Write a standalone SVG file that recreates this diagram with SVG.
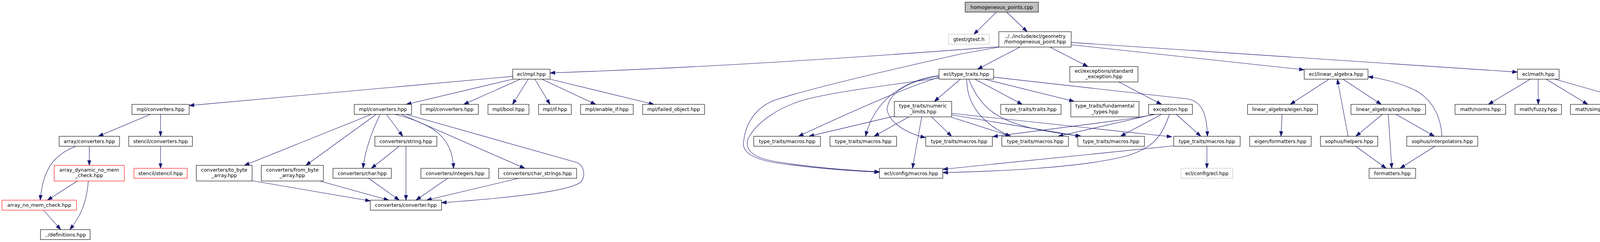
<svg xmlns="http://www.w3.org/2000/svg" width="4332" height="619" viewBox="0 0 4332 619">
<defs>
<style>
.node rect{fill:#ffffff;stroke:#000000;stroke-width:1.1}
.node.red rect{stroke:#ff0000}
.node.gray rect{stroke:#bfbfbf}
.node.root rect{fill:#bfbfbf}
text{font-family:"DejaVu Sans","Liberation Sans",sans-serif;font-size:12.5px;text-anchor:middle;fill:#000000}
.edges path{fill:none;stroke:#191970;stroke-width:1.1;marker-end:url(#arr)}
</style>
<marker id="arr" markerWidth="14" markerHeight="10" refX="13" refY="4.5" orient="auto" markerUnits="userSpaceOnUse">
<path d="M0,0 L13,4.5 L0,9 z" fill="#191970" stroke="#191970" stroke-width="1"/>
</marker>
</defs>
<rect width="4332" height="619" fill="#ffffff"/>
<g class="edges" id="edges">
<path d="M2551,31 L2493,87.7"/>
<path d="M2577,31 L2629.5,81"/>
<path d="M2557,119.5 Q1900,170 1408.1,186.5"/>
<path d="M2611,120.4 L2502.5,177"/>
<path d="M2688,120.4 L2785,170.2"/>
<path d="M2557,120.5 L2460,138 C2250,185 2080,225 1990,254 C1945,268 1910,305 1904,360 C1897,390 1930,408 1990,417 C2080,430 2180,437 2251.4,440.5"/>
<path d="M2403.6,199.5 C2300,215 2150,232 2060,255 C1990,275 1935,315 1915,355 C1905,385 1930,405 1990,414 C2080,428 2180,436 2251.4,439.5"/>
<path d="M2403.6,198 Q2310,225 2044,348.6"/>
<path d="M2403.6,193 C2320,205 2240,250 2215.7,348.6"/>
<path d="M2403.6,195 C2330,205 2275,235 2271,280 C2275,310 2315,340 2369.6,352"/>
<path d="M2458.6,202.5 L2392,259.4"/>
<path d="M2475,202.5 C2474,270 2520,320 2587,348.6"/>
<path d="M2480,202.5 C2510,280 2560,310 2650,330 C2700,340 2740,345 2768,348.6"/>
<path d="M2496,202.5 L2617,267"/>
<path d="M2520.4,202.5 L2750,259.4"/>
<path d="M2543.6,197.4 L3040,253 C3075,258 3090,290 3091,348.6"/>
<path d="M2289.5,297 L2071,348.6"/>
<path d="M2327,298.9 L2237.7,348.6"/>
<path d="M2359.6,298.9 L2335.9,430.5"/>
<path d="M2385,298.9 L2436,348.6"/>
<path d="M2436.3,300 L2588,348.6"/>
<path d="M2436.3,294 L2766,348.6"/>
<path d="M2436.3,290 L3000,350"/>
<path d="M2958,292.5 C2880,308 2700,328 2541.4,349.5"/>
<path d="M2954,292.5 L2709,348.6"/>
<path d="M2973.5,292.5 L2868.6,348.6"/>
<path d="M3011.4,292.5 L3074,348.6"/>
<path d="M2993.6,292.5 C2975,350 2950,380 2880,400 C2760,430 2550,438 2413.6,441.5"/>
<path d="M3004.7,373 L2413.6,433"/>
<path d="M3089.7,374 L3089.7,430.5"/>
<path d="M2864,209.6 L2973.5,267"/>
<path d="M2742.2,114.5 L3338.8,178.5"/>
<path d="M2742.2,108.6 L3884.5,184.4"/>
<path d="M3402,202.5 L3303,267"/>
<path d="M3438,202.5 L3536,267"/>
<path d="M3451.2,348.6 L3423.6,202.5"/>
<path d="M3691.4,348.6 C3688,290 3660,245 3610,225 C3570,208 3530,200 3502.1,196"/>
<path d="M3282,292.5 L3279.4,348.6"/>
<path d="M3538.8,292.5 L3471,348.6"/>
<path d="M3554,292.5 L3562.9,430.5"/>
<path d="M3574,292.5 L3672,348.6"/>
<path d="M3470.4,374 L3548.6,430.5"/>
<path d="M3673.6,374 L3584.3,430.5"/>
<path d="M3917.7,202.5 L3810.2,267"/>
<path d="M3937.9,202.5 L3937.9,267"/>
<path d="M3958.1,202.5 L4064.7,267"/>
<path d="M3979.8,202.5 L4208.9,267"/>
<path d="M1312.6,195.4 L484.3,270"/>
<path d="M1312.6,202.5 L1040,267"/>
<path d="M1332.2,202.5 L1187,267"/>
<path d="M1352.3,202.5 L1312,267"/>
<path d="M1369.3,202.5 L1408,267"/>
<path d="M1387.1,202.5 L1525,267"/>
<path d="M1408.1,202.5 L1674,267"/>
<path d="M950.7,292.5 L625.7,423"/>
<path d="M963.2,292.5 L782.9,423"/>
<path d="M973.2,292.5 C955,330 935,380 929.3,430.5"/>
<path d="M989.3,292.5 L1031,348.6"/>
<path d="M1011.4,292.5 C1110,318 1158,350 1161,430.5"/>
<path d="M1027.5,292.5 L1343.4,430.5"/>
<path d="M1040,292.5 L1478,416 C1497,425 1500,455 1485,467 C1460,485 1350,503 1130.4,518.5"/>
<path d="M1022.1,374 L950.7,430.5"/>
<path d="M1039.3,374 L1039.3,512"/>
<path d="M943.6,456 L1022.1,512"/>
<path d="M1146,456 L1065,512"/>
<path d="M1327.8,456 L1092,512"/>
<path d="M645.4,462.3 L948,514"/>
<path d="M818.6,463 L995.4,512"/>
<path d="M385,292.5 L251.6,348.6"/>
<path d="M411,292.5 L411,348.6"/>
<path d="M228.6,374 L228.6,423"/>
<path d="M194.6,374 C140,395 110,430 103,512"/>
<path d="M411,374 L411,430.5"/>
<path d="M198.2,463 L121.4,512"/>
<path d="M226,463 C222,520 205,555 178.6,587.3"/>
<path d="M111.8,538 L155.4,587.3"/>
</g>
<g class="node root" id="n0"><rect x="2470.8" y="5.5" width="187.5" height="25.5"/><text x="2564.5" y="22.7">homogeneous_points.cpp</text></g>
<g class="node gray" id="n1"><rect x="2428.3" y="87.7" width="104.1" height="25.5"/><text x="2480.4" y="104.9">gtest/gtest.h</text></g>
<g class="node" id="n2"><rect x="2557" y="81" width="185.2" height="39.4"/><text x="2649.6" y="96.5">../../include/ecl/geometry</text><text x="2649.6" y="110.8">/homogeneous_point.hpp</text></g>
<g class="node" id="n3"><rect x="1312.6" y="177" width="95.5" height="25.5"/><text x="1360.4" y="194.2">ecl/mpl.hpp</text></g>
<g class="node" id="n4"><rect x="2403.8" y="177" width="139.8" height="25.5"/><text x="2473.7" y="194.2">ecl/type_traits.hpp</text></g>
<g class="node" id="n5"><rect x="2738.7" y="170.2" width="174.5" height="39.4"/><text x="2826" y="185.7">ecl/exceptions/standard</text><text x="2826" y="200">_exception.hpp</text></g>
<g class="node" id="n6"><rect x="3338.8" y="177" width="163.3" height="25.5"/><text x="3420.4" y="194.2">ecl/linear_algebra.hpp</text></g>
<g class="node" id="n7"><rect x="3884.5" y="177" width="106.9" height="25.5"/><text x="3938" y="194.2">ecl/math.hpp</text></g>
<g class="node" id="n8"><rect x="337.7" y="267" width="146.6" height="25.5"/><text x="411" y="284.2">mpl/converters.hpp</text></g>
<g class="node" id="n9"><rect x="907" y="267" width="146.6" height="25.5"/><text x="980.3" y="284.2">mpl/converters.hpp</text></g>
<g class="node" id="n10"><rect x="1077.5" y="267" width="147.1" height="25.5"/><text x="1151" y="284.2">mpl/converters.hpp</text></g>
<g class="node" id="n11"><rect x="1249.2" y="267" width="104.9" height="25.5"/><text x="1301.7" y="284.2">mpl/bool.hpp</text></g>
<g class="node" id="n12"><rect x="1378.7" y="267" width="83.9" height="25.5"/><text x="1420.7" y="284.2">mpl/if.hpp</text></g>
<g class="node" id="n13"><rect x="1486.3" y="267" width="134.8" height="25.5"/><text x="1553.7" y="284.2">mpl/enable_if.hpp</text></g>
<g class="node" id="n14"><rect x="1645.2" y="267" width="158.6" height="25.5"/><text x="1724.5" y="284.2">mpl/failed_object.hpp</text></g>
<g class="node" id="n15"><rect x="2289.5" y="259.4" width="146.8" height="39.5"/><text x="2362.9" y="275">type_traits/numeric</text><text x="2362.9" y="289.5">_limits.hpp</text></g>
<g class="node" id="n16"><rect x="2561.9" y="267" width="154.4" height="25.5"/><text x="2639.1" y="284.2">type_traits/traits.hpp</text></g>
<g class="node" id="n17"><rect x="2741.3" y="259.4" width="174.6" height="39.5"/><text x="2828.6" y="275">type_traits/fundamental</text><text x="2828.6" y="289.5">_types.hpp</text></g>
<g class="node" id="n18"><rect x="2940.4" y="267" width="112.1" height="25.5"/><text x="2996.5" y="284.2">exception.hpp</text></g>
<g class="node" id="n19"><rect x="3193.7" y="267" width="179" height="25.5"/><text x="3283.2" y="284.2">linear_algebra/eigen.hpp</text></g>
<g class="node" id="n20"><rect x="3458.4" y="267" width="191.1" height="25.5"/><text x="3554" y="284.2">linear_algebra/sophus.hpp</text></g>
<g class="node" id="n21"><rect x="3724.9" y="267" width="129.7" height="25.5"/><text x="3789.8" y="284.2">math/norms.hpp</text></g>
<g class="node" id="n22"><rect x="3878.4" y="267" width="119.1" height="25.5"/><text x="3938" y="284.2">math/fuzzy.hpp</text></g>
<g class="node" id="n23"><rect x="4020.2" y="267" width="131" height="25.5"/><text x="4085.7" y="284.2">math/simple.hpp</text></g>
<g class="node" id="n24"><rect x="4175.6" y="267" width="151.4" height="25.5"/><text x="4251.3" y="284.2">math/constants.hpp</text></g>
<g class="node" id="n25"><rect x="151.4" y="348.6" width="154.6" height="25.5"/><text x="228.7" y="365.8">array/converters.hpp</text></g>
<g class="node" id="n26"><rect x="329.6" y="348.6" width="162.9" height="25.5"/><text x="411" y="365.8">stencil/converters.hpp</text></g>
<g class="node" id="n27"><rect x="959.6" y="348.6" width="158.8" height="25.5"/><text x="1039" y="365.8">converters/string.hpp</text></g>
<g class="node" id="n28"><rect x="1929.6" y="348.6" width="170.6" height="25.5"/><text x="2014.9" y="365.8">type_traits/macros.hpp</text></g>
<g class="node" id="n29"><rect x="2124.7" y="348.6" width="170.6" height="25.5"/><text x="2210" y="365.8">type_traits/macros.hpp</text></g>
<g class="node" id="n30"><rect x="2369.8" y="348.6" width="170.6" height="25.5"/><text x="2455.1" y="365.8">type_traits/macros.hpp</text></g>
<g class="node" id="n31"><rect x="2564.6" y="348.6" width="170.5" height="25.5"/><text x="2649.9" y="365.8">type_traits/macros.hpp</text></g>
<g class="node" id="n32"><rect x="2759.2" y="348.6" width="170.5" height="25.5"/><text x="2844.5" y="365.8">type_traits/macros.hpp</text></g>
<g class="node" id="n33"><rect x="3004.7" y="348.6" width="170.2" height="25.5"/><text x="3089.8" y="365.8">type_traits/macros.hpp</text></g>
<g class="node" id="n34"><rect x="3199" y="348.6" width="157.6" height="25.5"/><text x="3277.8" y="365.8">eigen/formatters.hpp</text></g>
<g class="node" id="n35"><rect x="3380.3" y="348.6" width="146.8" height="25.5"/><text x="3453.7" y="365.8">sophus/helpers.hpp</text></g>
<g class="node" id="n36"><rect x="3601.3" y="348.6" width="181.7" height="25.5"/><text x="3692.1" y="365.8">sophus/interpolators.hpp</text></g>
<g class="node red" id="n37"><rect x="138.6" y="423" width="179.6" height="40"/><text x="228.4" y="438.6">array_dynamic_no_mem</text><text x="228.4" y="453">_check.hpp</text></g>
<g class="node red" id="n38"><rect x="342.9" y="430.5" width="136.4" height="25.5"/><text x="411.1" y="447.7">stencil/stencil.hpp</text></g>
<g class="node" id="n39"><rect x="502.5" y="423" width="142.9" height="40"/><text x="574" y="438.6">converters/to_byte</text><text x="574" y="453">_array.hpp</text></g>
<g class="node" id="n40"><rect x="668.9" y="423" width="159" height="40"/><text x="748.4" y="438.6">converters/from_byte</text><text x="748.4" y="453">_array.hpp</text></g>
<g class="node" id="n41"><rect x="852.5" y="430.5" width="149.3" height="25.5"/><text x="927.2" y="447.7">converters/char.hpp</text></g>
<g class="node" id="n42"><rect x="1077.5" y="430.5" width="174.5" height="25.5"/><text x="1164.8" y="447.7">converters/integers.hpp</text></g>
<g class="node" id="n43"><rect x="1276.4" y="430.5" width="199.6" height="25.5"/><text x="1376.2" y="447.7">converters/char_strings.hpp</text></g>
<g class="node" id="n44"><rect x="2251.4" y="430.5" width="162.2" height="25.5"/><text x="2332.5" y="447.7">ecl/config/macros.hpp</text></g>
<g class="node gray" id="n45"><rect x="3023.5" y="430.5" width="132.2" height="25.5"/><text x="3089.6" y="447.7">ecl/config/ecl.hpp</text></g>
<g class="node" id="n46"><rect x="3504.8" y="430.5" width="119.2" height="25.5"/><text x="3564.4" y="447.7">formatters.hpp</text></g>
<g class="node red" id="n47"><rect x="5" y="512" width="191" height="25.5"/><text x="100.5" y="529.2">array_no_mem_check.hpp</text></g>
<g class="node" id="n48"><rect x="947.9" y="512" width="182.5" height="25.5"/><text x="1039.2" y="529.2">converters/converter.hpp</text></g>
<g class="node" id="n49"><rect x="103.6" y="587.3" width="127.1" height="25.5"/><text x="167.2" y="604.5">../definitions.hpp</text></g>
</svg>
